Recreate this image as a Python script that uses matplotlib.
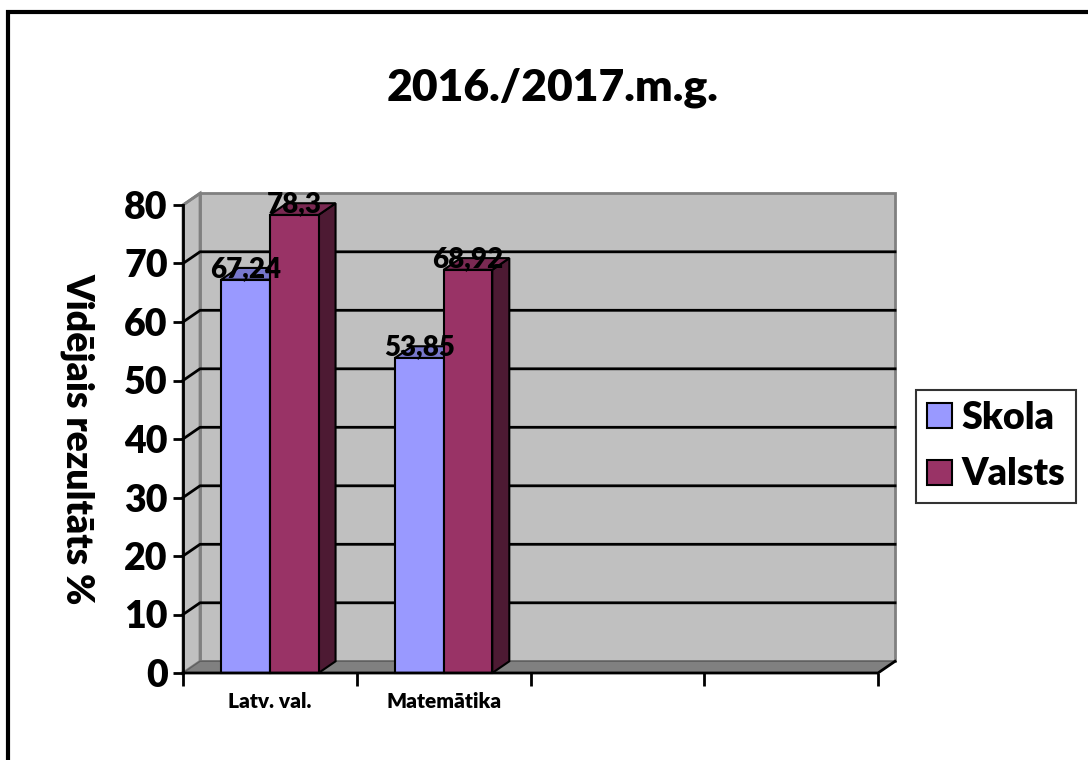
import matplotlib
matplotlib.use("Agg")
import matplotlib.pyplot as plt
from matplotlib.patches import Polygon, Rectangle

plt.rcParams['font.family'] = ['Lato', 'DejaVu Sans']
plt.rcParams['font.weight'] = 'heavy'
W = 'heavy'

TITLE = "2016./2017.m.g."
Y_LABEL = "Vidējais rezultāts %"
categories = ["Latv. val.", "Matemātika", "", ""]
series_names = ["Skola", "Valsts"]
skola = [67.24, 53.85]
valsts = [78.3, 68.92]
skola_labels = ["67,24", "53,85"]
valsts_labels = ["78,3", "68,92"]
y_ticks = [0, 10, 20, 30, 40, 50, 60, 70, 80]

FRONT = ["#9999FF", "#993366"]
TOP = ["#7777CC", "#7A2952"]
SIDE = ["#5C5C99", "#4D1A33"]

BAR_W = 0.28
DX, DY = 0.098, 2.0   # depth of the 3d effect in data units

fig = plt.figure(figsize=(10.88, 7.6), dpi=100)
fig.patches.append(Rectangle((8 / 1088, -0.1), 1.2, (760 - 12) / 760 + 0.1,
                             transform=fig.transFigure, fill=False,
                             edgecolor="black", linewidth=3))

ax = fig.add_axes([183 / 1088, 87 / 760, 695 / 1088, 468 / 760])
ax.set_xlim(-0.5, 3.5)
ax.set_ylim(0, 80)
ax.patch.set_visible(False)
for s in ax.spines.values():
    s.set_visible(False)

x0, x1 = -0.5, 3.5
# back wall, side wall, floor
ax.add_patch(Polygon([(x0 + DX, DY), (x1 + DX, DY), (x1 + DX, 80 + DY), (x0 + DX, 80 + DY)],
                     facecolor="#C0C0C0", edgecolor="#808080", lw=2, clip_on=False, zorder=0))
ax.add_patch(Polygon([(x0, 0), (x0 + DX, DY), (x0 + DX, 80 + DY), (x0, 80)],
                     facecolor="#C0C0C0", edgecolor="#808080", lw=2, clip_on=False, zorder=0))
ax.add_patch(Polygon([(x0, 0), (x1, 0), (x1 + DX, DY), (x0 + DX, DY)],
                     facecolor="#808080", edgecolor="#606060", lw=1, clip_on=False, zorder=0.5))
for t in y_ticks[1:-1]:
    ax.plot([x0, x0 + DX, x1 + DX], [t, t + DY, t + DY], color="black", lw=2,
            clip_on=False, zorder=0.6)
ax.plot([x0, x0 + DX], [80, 80 + DY], color="#808080", lw=2, clip_on=False, zorder=0.6)

# bars
for i, (vals, labels) in enumerate([(skola, skola_labels), (valsts, valsts_labels)]):
    for j, v in enumerate(vals):
        left = j - BAR_W + i * BAR_W
        right = left + BAR_W
        ax.add_patch(Polygon([(right, 0), (right + DX, DY), (right + DX, v + DY), (right, v)],
                             facecolor=SIDE[i], edgecolor="black", lw=1.5, clip_on=False, zorder=2))
        ax.add_patch(Polygon([(left, v), (right, v), (right + DX, v + DY), (left + DX, v + DY)],
                             facecolor=TOP[i], edgecolor="black", lw=1.5, clip_on=False, zorder=2))
        ax.bar(left, v, width=BAR_W, align="edge", color=FRONT[i], edgecolor="black",
               lw=1.5, clip_on=False, zorder=2)
        ax.text(left + BAR_W / 2, v + 1.8, labels[j], ha="center", va="center",
                fontsize=20, fontweight=W, zorder=5)

# front axes lines
ax.plot([x0, x0], [0, 80], color="black", lw=2, clip_on=False, zorder=3)
ax.plot([x0, x1, x1 + DX], [0, 0, DY], color="black", lw=2, clip_on=False, zorder=3)

ax.set_yticks(y_ticks)
ax.set_yticklabels([str(t) for t in y_ticks], fontsize=27, fontweight=W)
ax.tick_params(axis="y", length=7, width=2, pad=4, direction="out")
ax.set_xticks([-0.5, 0.5, 1.5, 2.5, 3.5])
ax.set_xticklabels([])
ax.tick_params(axis="x", length=9, width=2, direction="out")
for j, c in enumerate(categories):
    ax.text(j, -4.8, c, ha="center", va="center", fontsize=15, fontweight=W)

ax.set_ylabel(Y_LABEL, fontsize=27, fontweight=W, rotation=-90)
ax.yaxis.set_label_coords((78 - 183) / 695, 0.5)
ax.yaxis.label.set_va("center")

fig.text(553 / 1088, 1 - 88 / 760, TITLE, ha="center", va="center",
         fontsize=32, fontweight=W)

handles = [Rectangle((0, 0), 1, 1, facecolor=FRONT[k], edgecolor="black", lw=1.5)
           for k in range(2)]
leg = fig.legend(handles, series_names, loc="center", bbox_to_anchor=(996 / 1088, 1 - 446 / 760),
                 fontsize=27, frameon=True, fancybox=False, edgecolor="black",
                 handlelength=0.65, handleheight=0.65, handletextpad=0.25,
                 borderpad=0.3, labelspacing=0.6, borderaxespad=0)
leg.get_frame().set_linewidth(1.5)
for t in leg.get_texts():
    t.set_fontweight(W)

fig.savefig("out.png", dpi=100)
